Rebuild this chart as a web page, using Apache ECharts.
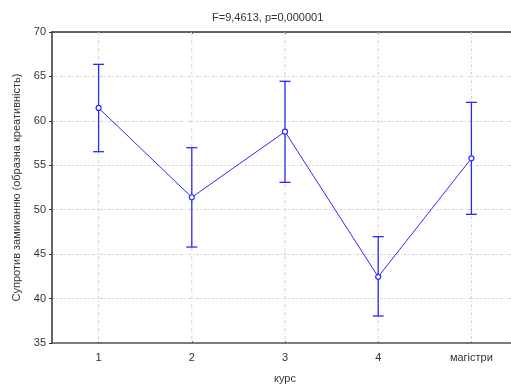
<!DOCTYPE html>
<html>
<head>
<meta charset="utf-8">
<script src="https://cdn.jsdelivr.net/npm/echarts@6/dist/echarts.min.js"></script>
<style>html,body{margin:0;padding:0;background:#fff;overflow:hidden}#c{width:511px;height:389px}</style>
</head>
<body>
<div id="c"></div>
<script>
const categories = ['1', '2', '3', '4', 'магістри'];
const means = [61.45, 51.4, 58.78, 42.45, 55.78];
const lower = [56.53, 45.8, 53.08, 38.04, 49.48];
const upper = [66.36, 56.98, 64.45, 46.97, 62.08];
const yTicks = [35, 40, 45, 50, 55, 60, 65, 70];

const chart = echarts.init(document.getElementById('c'));
const blue = '#2a2aff';
const font = 'Liberation Sans, Arial, sans-serif';
const gridColor = '#d2d2d2';
const gridDash = [3, 2, 1, 2];
const gridLine = {show: true, lineStyle: {color: gridColor, width: 1, type: gridDash}};

chart.setOption({
  animation: false,
  title: {
    text: 'F=9,4613, p=0,000001',
    left: 207, top: 7,
    textStyle: {fontFamily: font, fontSize: 11, fontWeight: 'normal', color: '#333'}
  },
  grid: {left: 52, top: 32, width: 466, bottom: 46, outerBoundsMode: 'none', containLabel: false},
  xAxis: [{
    type: 'category', data: categories, boundaryGap: true,
    name: 'курс', nameLocation: 'middle', nameGap: 30,
    nameTextStyle: {fontFamily: font, fontSize: 11, color: '#333'},
    axisLine: {lineStyle: {color: '#555', width: 1.5}},
    axisTick: {show: true, inside: true, length: 2, alignWithLabel: true, lineStyle: {color: '#555'}},
    axisLabel: {fontFamily: font, fontSize: 11, color: '#333', margin: 9},
    splitLine: {show: false}
  }, {
    type: 'category', data: categories, position: 'top', boundaryGap: true,
    axisLine: {lineStyle: {color: '#333', width: 1.5}},
    axisTick: {show: true, inside: true, length: 2, alignWithLabel: true, lineStyle: {color: '#333'}},
    axisLabel: {show: false}, splitLine: {show: false}
  }],
  yAxis: {
    type: 'value', min: 35, max: 70, interval: 5,
    name: 'Супротив замиканню (образна креативність)', nameLocation: 'middle', nameGap: 28,
    nameTextStyle: {fontFamily: font, fontSize: 11, color: '#333'},
    axisLine: {show: true, lineStyle: {color: '#333', width: 1.5}},
    axisTick: {show: true, length: 3, lineStyle: {color: '#333'}},
    axisLabel: {fontFamily: font, fontSize: 11, color: '#333', margin: 6,
      formatter: v => yTicks.includes(v) ? String(v) : ''},
    splitLine: gridLine
  },
  series: [{
    type: 'custom',
    renderItem: function (params, api) {
      const x = api.value(0);
      const lo = api.coord([x, api.value(1)]);
      const hi = api.coord([x, api.value(2)]);
      const xc = lo[0];
      const vx = api.coord([x, 70]);
      const vb = api.coord([x, 35]);
      const hw = 5.5;
      const st = {stroke: blue, lineWidth: 1.3};
      return {
        type: 'group',
        children: [
          {type: 'line', shape: {x1: xc, y1: vx[1], x2: xc, y2: vb[1]}, style: {stroke: gridColor, lineWidth: 1, lineDash: gridDash}, silent: true},
          {type: 'line', shape: {x1: xc, y1: lo[1], x2: xc, y2: hi[1]}, style: st},
          {type: 'line', shape: {x1: xc - hw, y1: lo[1], x2: xc + hw, y2: lo[1]}, style: st},
          {type: 'line', shape: {x1: xc - hw, y1: hi[1], x2: xc + hw, y2: hi[1]}, style: st}
        ]
      };
    },
    data: categories.map((c, i) => [i, lower[i], upper[i]]),
    z: 2
  }, {
    type: 'line', data: means, z: 3,
    lineStyle: {color: blue, width: 1},
    itemStyle: {color: '#fff', borderColor: blue, borderWidth: 1.2},
    symbol: 'circle', symbolSize: 5, showSymbol: true
  }]
});
</script>
</body>
</html>
